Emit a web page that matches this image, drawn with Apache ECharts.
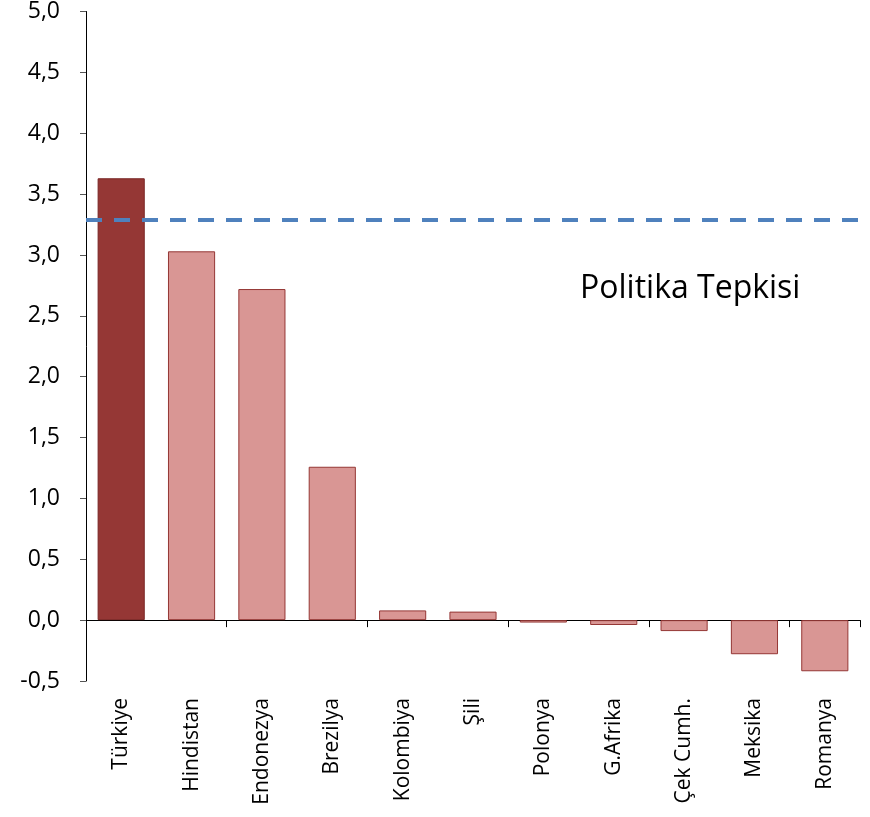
<!DOCTYPE html>
<html>
<head>
<meta charset="utf-8">
<script src="https://cdn.jsdelivr.net/npm/echarts@6/dist/echarts.min.js"></script>
<style>
html, body { margin: 0; padding: 0; background: #fff; }
#chart { width: 870px; height: 817px; }
</style>
</head>
<body>
<div id="chart"></div>
<script>
var countries = ['Türkiye', 'Hindistan', 'Endonezya', 'Brezilya', 'Kolombiya', 'Şili', 'Polonya', 'G.Afrika', 'Çek Cumh.', 'Meksika', 'Romanya'];
var values = [3.63, 3.03, 2.72, 1.26, 0.08, 0.07, -0.02, -0.04, -0.09, -0.28, -0.42];
var average = 3.29;
var yTicks = [-0.5, 0, 0.5, 1.0, 1.5, 2.0, 2.5, 3.0, 3.5, 4.0, 4.5, 5.0];
var noteText = 'Politika Tepkisi';

var font = '"Open Sans", "Noto Sans", sans-serif';

var dom = document.getElementById('chart');
var myChart = echarts.init(dom);

var barData = values.map(function (v, i) {
    if (i === 0) {
        return { value: v, itemStyle: { color: '#953735', borderColor: '#7a2624', borderWidth: 1 } };
    }
    return v;
});

var option = {
    animation: false,
    grid: {
        left: 86,
        right: 10,
        top: 10,
        bottom: 136
    },
    xAxis: [{
        type: 'category',
        data: countries,
        position: 'bottom',
        axisLine: { onZero: true, lineStyle: { color: '#000', width: 1 } },
        axisTick: { show: true, length: 7, lineStyle: { color: '#000' } },
        axisLabel: { show: false },
        splitLine: { show: false }
    }, {
        type: 'category',
        data: countries,
        position: 'bottom',
        axisLine: { show: false, onZero: false },
        axisTick: { show: false },
        axisLabel: {
            rotate: 90,
            margin: 17,
            interval: 0,
            color: '#000',
            fontSize: 21,
            fontFamily: font
        }
    }],
    yAxis: {
        type: 'value',
        min: yTicks[0],
        max: yTicks[yTicks.length - 1],
        interval: 0.5,
        axisLine: { show: true, lineStyle: { color: '#000' } },
        axisTick: { show: true, length: 6, inside: false, lineStyle: { color: '#555' } },
        axisLabel: {
            margin: 26,
            color: '#000',
            fontSize: 23,
            fontFamily: font,
            formatter: function (v) { return v.toFixed(1).replace('.', ','); }
        },
        splitLine: { show: false }
    },
    series: [{
        type: 'bar',
        data: barData,
        barCategoryGap: '33%',
        itemStyle: {
            color: '#D99694',
            borderColor: '#953735',
            borderWidth: 1
        },
        markLine: {
            silent: true,
            symbol: 'none',
            label: { show: false },
            lineStyle: { color: '#4F81BD', width: 4, type: [16, 12] },
            data: [{ yAxis: average }]
        }
    }],
    graphic: [{
        type: 'text',
        left: 580,
        top: 273,
        style: {
            text: noteText,
            fill: '#000',
            fontSize: 32,
            fontFamily: font
        }
    }]
};

myChart.setOption(option, true);
window.addEventListener('resize', function () {
    myChart.resize();
});
</script>
</body>
</html>
